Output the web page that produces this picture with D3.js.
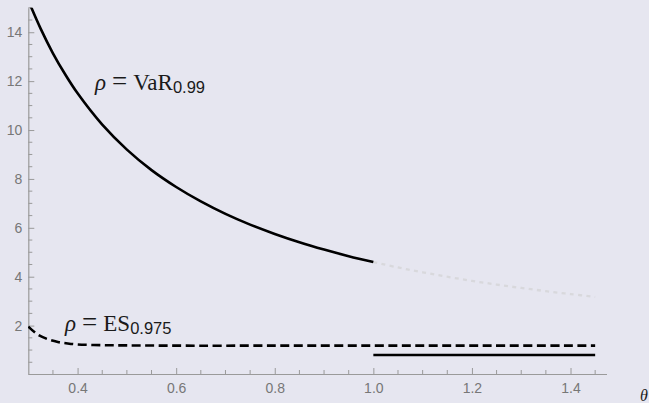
<!DOCTYPE html>
<html>
<head>
<meta charset="utf-8">
<script src="https://cdn.jsdelivr.net/npm/d3@7"></script>
<style>
  body { margin: 0; background: #e6e6f0; }
  svg { display: block; }
</style>
</head>
<body>
<div id="chart"></div>
<script>
// Data
var thetaVaR = [0.30, 0.325, 0.35, 0.375, 0.40, 0.45, 0.50, 0.55, 0.60, 0.65, 0.70, 0.75, 0.80, 0.85, 0.90, 0.95, 1.00];
var valueVaR = [15.3, 14.15, 13.14, 12.27, 11.5, 10.22, 9.2, 8.36, 7.67, 7.08, 6.57, 6.13, 5.75, 5.41, 5.11, 4.84, 4.6];

var thetaVaRExt = [1.00, 1.05, 1.10, 1.15, 1.20, 1.25, 1.30, 1.35, 1.40, 1.45];
var valueVaRExt = [4.6, 4.38, 4.18, 4.0, 3.83, 3.68, 3.54, 3.41, 3.29, 3.17];

var thetaES = [0.30, 0.32, 0.34, 0.36, 0.38, 0.40, 0.45, 0.50, 0.60, 0.80, 1.00, 1.20, 1.45];
var valueES = [1.96, 1.62, 1.44, 1.33, 1.27, 1.23, 1.2, 1.19, 1.18, 1.18, 1.18, 1.18, 1.18];

var thetaFlat = [1.00, 1.45];
var valueFlat = [0.8, 0.8];

var xTickValues = [0.4, 0.6, 0.8, 1.0, 1.2, 1.4];
var xTickLabels = ["0.4", "0.6", "0.8", "1.0", "1.2", "1.4"];
var yTickValues = [2, 4, 6, 8, 10, 12, 14];
var yTickLabels = ["2", "4", "6", "8", "10", "12", "14"];

var svgWidth = 649;
var svgHeight = 403;

var svg = d3.select("#chart")
  .append("svg")
  .attr("width", svgWidth)
  .attr("height", svgHeight);

svg.append("rect")
  .attr("width", svgWidth)
  .attr("height", svgHeight)
  .attr("fill", "#e6e6f0");

// scales
var xScale = d3.scaleLinear().domain([0.3, 1.473]).range([28.3, 606.5]);
var yScale = d3.scaleLinear().domain([0, 15]).range([374.5, 7.8]);

var axisColor = "#9a9a9a";
var labelColor = "#777";

// minor ticks
var xMinor = d3.range(0.35, 1.46, 0.05).filter(v => !xTickValues.some(t => Math.abs(t - v) < 1e-6));
var yMinor = d3.range(0.5, 15.01, 0.5).filter(v => !yTickValues.some(t => Math.abs(t - v) < 1e-6));

var xAxisG = svg.append("g")
  .attr("transform", "translate(0, 374)")
  .call(d3.axisBottom(xScale)
    .tickValues(xTickValues)
    .tickFormat((d, i) => xTickLabels[i])
    .tickSizeInner(-6)
    .tickSizeOuter(0)
    .tickPadding(9));

xAxisG.append("g").selectAll("line")
  .data(xMinor)
  .enter()
  .append("line")
  .attr("x1", d => xScale(d))
  .attr("x2", d => xScale(d))
  .attr("y1", 0)
  .attr("y2", -4)
  .attr("stroke", axisColor);

var yAxisG = svg.append("g")
  .attr("transform", "translate(28.3, 0)")
  .call(d3.axisLeft(yScale)
    .tickValues(yTickValues)
    .tickFormat((d, i) => yTickLabels[i])
    .tickSizeInner(-6)
    .tickSizeOuter(0)
    .tickPadding(6));

yAxisG.append("g").selectAll("line")
  .data(yMinor)
  .enter()
  .append("line")
  .attr("x1", 0)
  .attr("x2", 4)
  .attr("y1", d => yScale(d))
  .attr("y2", d => yScale(d))
  .attr("stroke", axisColor);

// style axes
svg.selectAll(".domain").attr("stroke", axisColor).attr("stroke-width", 1.2);
svg.selectAll(".tick line").attr("stroke", axisColor);
svg.selectAll(".tick text")
  .attr("fill", labelColor)
  .attr("font-family", "Liberation Sans, Arial, sans-serif")
  .attr("font-size", "14px");

// clip
svg.append("clipPath")
  .attr("id", "plotClip")
  .append("rect")
  .attr("x", 28)
  .attr("y", yScale(15))
  .attr("width", 580)
  .attr("height", yScale(0) - yScale(15));

var plot = svg.append("g").attr("clip-path", "url(#plotClip)");

function makeLine(xs) {
  return d3.line()
    .x((d, i) => xScale(xs[i]))
    .y(d => yScale(d))
    .curve(d3.curveCatmullRom);
}

// dotted continuation
plot.append("path")
  .datum(valueVaRExt)
  .attr("d", makeLine(thetaVaRExt))
  .attr("fill", "none")
  .attr("stroke", "#d8d8dc")
  .attr("stroke-width", 2.3)
  .attr("stroke-dasharray", "4,4.3");

plot.append("path")
  .datum(valueVaR)
  .attr("d", makeLine(thetaVaR))
  .attr("fill", "none")
  .attr("stroke", "#000")
  .attr("stroke-width", 2.6);

plot.append("path")
  .datum(valueES)
  .attr("d", makeLine(thetaES))
  .attr("fill", "none")
  .attr("stroke", "#000")
  .attr("stroke-width", 2.6)
  .attr("stroke-dasharray", "9,4.5");

plot.append("path")
  .datum(valueFlat)
  .attr("d", makeLine(thetaFlat))
  .attr("fill", "none")
  .attr("stroke", "#000")
  .attr("stroke-width", 2.6);

// labels
function addLabel(x, y, name, sub) {
  var t = svg.append("text")
    .attr("x", x)
    .attr("y", y)
    .attr("font-family", "Liberation Serif, Times New Roman, serif")
    .attr("font-size", "23px")
    .attr("fill", "#1a1a1a");
  t.append("tspan").attr("font-style", "italic").text("ρ");
  t.append("tspan").attr("dx", 6).attr("font-size", "27px").text("=");
  t.append("tspan").attr("dx", 6).text(name);
  t.append("tspan")
    .attr("dy", 3)
    .attr("font-family", "Liberation Sans, Arial, sans-serif")
    .attr("font-size", "16.5px")
    .text(sub);
}

addLabel(95, 90, "VaR", "0.99");
addLabel(65, 331, "ES", "0.975");

svg.append("text")
  .attr("x", 640)
  .attr("y", 401)
  .attr("font-family", "Liberation Serif, Times New Roman, serif")
  .attr("font-style", "italic")
  .attr("font-size", "16px")
  .attr("fill", "#1a1a1a")
  .text("θ");
</script>
</body>
</html>
